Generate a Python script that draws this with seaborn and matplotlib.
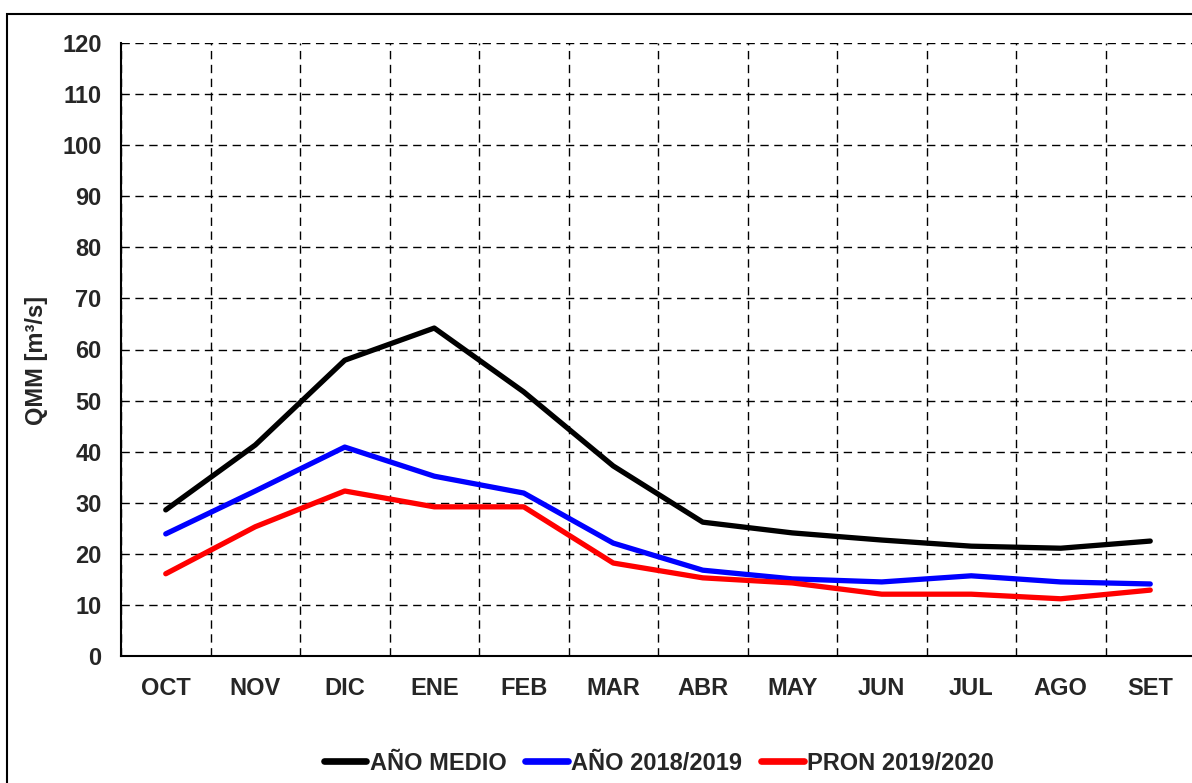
import matplotlib
matplotlib.use("Agg")
import matplotlib.pyplot as plt
import seaborn as sns
import pandas as pd
import numpy as np
from matplotlib.patches import Rectangle

months = ["OCT", "NOV", "DIC", "ENE", "FEB", "MAR", "ABR", "MAY", "JUN", "JUL", "AGO", "SET"]
anio_medio = [28.6, 41.3, 57.9, 64.2, 51.7, 37.2, 26.2, 24.1, 22.7, 21.5, 21.1, 22.5]
anio_2018 = [23.9, 32.3, 40.9, 35.2, 31.9, 22.1, 16.8, 15.1, 14.5, 15.7, 14.5, 14.1]
pron_2019 = [16.1, 25.3, 32.3, 29.2, 29.2, 18.2, 15.3, 14.3, 12.1, 12.1, 11.2, 12.9]
series_names = ["AÑO MEDIO", "AÑO 2018/2019", "PRON 2019/2020"]
colors = ["#000000", "#0000FF", "#FF0000"]
y_ticks = list(range(0, 121, 10))

sns.set_theme(style="white")
plt.rcParams['font.family'] = ['Liberation Sans', 'DejaVu Sans']
plt.rcParams['font.weight'] = 'bold'

FS = 17

rows = []
for name, vals in zip(series_names, [anio_medio, anio_2018, pron_2019]):
    for i, v in enumerate(vals):
        rows.append({"idx": i, "month": months[i], "value": v, "serie": name})
df = pd.DataFrame(rows)

fig = plt.figure(figsize=(11.92, 7.83), dpi=100)
fig.patch.set_facecolor("white")
fig.patches.append(Rectangle((7/1192, -0.1), 1.2, (1 - 14/783) + 0.1,
                             transform=fig.transFigure, fill=False,
                             edgecolor="black", linewidth=1.5, zorder=0))

ax = fig.add_axes([121/1192, 1 - 656/783, 1074/1192, (656 - 43)/783])
sns.lineplot(data=df, x="idx", y="value", hue="serie", palette=colors,
             hue_order=series_names, linewidth=3.8, ax=ax, legend=True,
             solid_capstyle="round")

ax.set_xlim(-0.5, 11.5)
ax.set_ylim(0, 120)
ax.set_yticks(y_ticks)
ax.set_yticklabels([str(t) for t in y_ticks], fontsize=FS, fontweight="bold")
ax.set_xticks(range(12))
ax.set_xticklabels(months, fontsize=FS, fontweight="bold")
ax.set_xticks(np.arange(-0.5, 12, 1), minor=True)
ax.tick_params(axis="x", which="major", length=0, pad=15)
ax.tick_params(axis="x", which="minor", length=6, width=1.2, direction="out", color="black")
ax.tick_params(axis="y", which="major", length=5, width=1.2, direction="out", color="black", pad=9)
ax.grid(False)
ax.yaxis.grid(True, which="major", linestyle=(0, (6, 4)), color="black", linewidth=1.0)
ax.xaxis.grid(True, which="minor", linestyle=(0, (6, 4)), color="black", linewidth=1.0)
for s in ["top", "right"]:
    ax.spines[s].set_visible(False)
for s in ["left", "bottom"]:
    ax.spines[s].set_color("black")
    ax.spines[s].set_linewidth(1.5)
ax.set_xlabel("")
ax.set_ylabel("QMM [m³/s]", fontsize=FS, fontweight="bold")
ax.yaxis.set_label_coords((48 - 121) / 1074, (656 - 360) / 613)

handles, labels = ax.get_legend_handles_labels()
ax.get_legend().remove()
for h in handles:
    h.set_linewidth(4.8)
fig.legend(handles, labels, loc="center", bbox_to_anchor=(659/1192, 1 - 763/783),
           ncol=3, frameon=False, handlelength=1.8,
           handletextpad=0.15, columnspacing=0.8, prop={"weight": "bold", "size": FS})

fig.savefig("out.png", dpi=100, facecolor="white")
